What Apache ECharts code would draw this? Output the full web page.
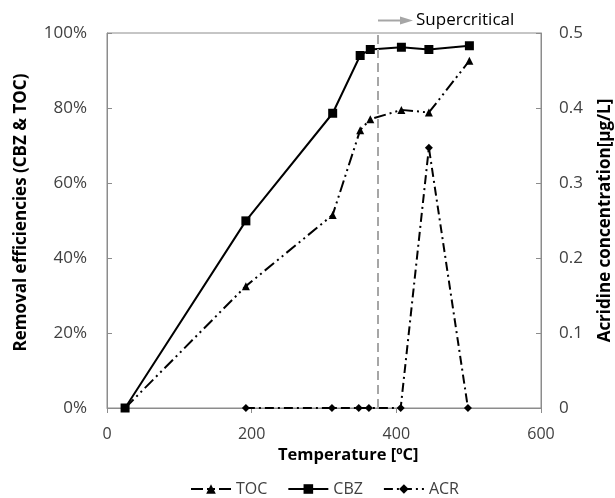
<!DOCTYPE html>
<html>
<head>
<meta charset="utf-8">
<script src="https://cdn.jsdelivr.net/npm/echarts@6/dist/echarts.min.js"></script>
<style>html,body{margin:0;padding:0;background:#fff;}#c{width:615px;height:498px;}</style>
</head>
<body>
<div id="c"></div>
<script>
const tocTemp = [25, 192, 312, 350, 364, 407, 445, 501];
const tocVals = [0, 32.5, 51.5, 74.1, 77, 79.5, 78.8, 92.6];
const cbzTemp = [25, 192, 312, 350, 364, 407, 445, 501];
const cbzVals = [0, 49.9, 78.6, 94, 95.6, 96.2, 95.6, 96.6];
const acrTemp = [192, 311, 348, 362, 406, 445, 499];
const acrVals = [0, 0, 0, 0, 0, 0.347, 0];
const criticalTemp = 374;
const leftTicks = [0, 20, 40, 60, 80, 100];
const rightTicks = [0, 0.1, 0.2, 0.3, 0.4, 0.5];

const font = 'Open Sans';
const chart = echarts.init(document.getElementById('c'));
const pair = (xs, ys) => xs.map((x, i) => [x, ys[i]]);
chart.setOption({
  animation: false,
  textStyle: { fontFamily: font },
  grid: { left: 107, right: 74, top: 33, bottom: 90, show: true, borderColor: '#8c8c8c', borderWidth: 1, outerBoundsMode: 'none', containLabel: false },
  legend: {
    top: 481, left: 190, padding: 0, itemGap: 20, itemWidth: 40, itemHeight: 12,
    textStyle: { fontFamily: font, fontSize: 16, color: '#404040' },
    data: ['TOC', 'CBZ', 'ACR']
  },
  xAxis: {
    type: 'value', min: 0, max: 600, interval: 200,
    axisLine: { lineStyle: { color: '#8c8c8c' } },
    axisTick: { show: true, inside: false, length: 5, lineStyle: { color: '#8c8c8c' } },
    axisLabel: { fontSize: 16, color: '#404040', margin: 18 },
    splitLine: { show: false }
  },
  yAxis: [
    {
      type: 'value', min: 0, max: 100, interval: 20,
      axisLine: { show: true, lineStyle: { color: '#8c8c8c' } },
      axisTick: { show: true, inside: true, length: 5, lineStyle: { color: '#8c8c8c' } },
      axisLabel: { fontSize: 17, color: '#404040', formatter: v => leftTicks.includes(v) ? v + '%' : '', margin: 20 },
      splitLine: { show: false },
      name: 'Removal efficiencies (CBZ & TOC)', nameLocation: 'middle', nameGap: 77, nameRotate: 90,
      nameTextStyle: { fontSize: 17, fontWeight: 'bold', color: '#000', padding: [0, 0, 0, 16] }
    },
    {
      type: 'value', min: 0, max: 0.5, interval: 0.1, position: 'right',
      axisLine: { show: true, lineStyle: { color: '#8c8c8c' } },
      axisTick: { show: true, inside: true, length: 5, lineStyle: { color: '#8c8c8c' } },
      axisLabel: { fontSize: 17, color: '#404040', margin: 18, formatter: v => String(rightTicks.find(t => Math.abs(t - v) < 1e-9) ?? '') },
      splitLine: { show: false },
      name: 'Acridine concentration[μg/L]', nameLocation: 'middle', nameGap: 56, nameRotate: 90,
      nameTextStyle: { fontSize: 17, fontWeight: 'bold', color: '#000' }
    }
  ],
  series: [
    {
      name: 'TOC', type: 'line', yAxisIndex: 0, data: pair(tocTemp, tocVals),
      symbol: 'triangle', symbolSize: 8, itemStyle: { color: '#000' },
      lineStyle: { color: '#000', width: 2, type: [12, 4, 2, 4, 2, 4] }
    },
    {
      name: 'CBZ', type: 'line', yAxisIndex: 0, data: pair(cbzTemp, cbzVals),
      symbol: 'rect', symbolSize: 9, itemStyle: { color: '#000' },
      lineStyle: { color: '#000', width: 2, type: 'solid' },
      markLine: {
        silent: true, symbol: 'none', label: { show: false },
        lineStyle: { color: '#a6a6a6', width: 2, type: [9, 5] },
        data: [{ xAxis: criticalTemp }]
      }
    },
    {
      name: 'ACR', type: 'line', yAxisIndex: 1, data: pair(acrTemp, acrVals),
      symbol: 'diamond', symbolSize: 8, itemStyle: { color: '#000' },
      lineStyle: { color: '#000', width: 2, type: [9, 4, 2, 4] }
    }
  ],
  graphic: [
    { type: 'text', x: 278, y: 455, style: { text: 'Temperature [ºC]', font: 'bold 16.5px "Open Sans"', fill: '#000', verticalAlign: 'middle' } },
    { type: 'line', shape: { x1: 378, y1: 20.5, x2: 402, y2: 20.5 }, style: { stroke: '#a6a6a6', lineWidth: 2 } },
    { type: 'polygon', shape: { points: [[400, 16.5], [413, 20.5], [400, 24.5]] }, style: { fill: '#a6a6a6' } },
    { type: 'text', x: 416, y: 20, style: { text: 'Supercritical', font: '17px "Open Sans"', fill: '#000', verticalAlign: 'middle' } }
  ]
});
</script>
</body>
</html>
